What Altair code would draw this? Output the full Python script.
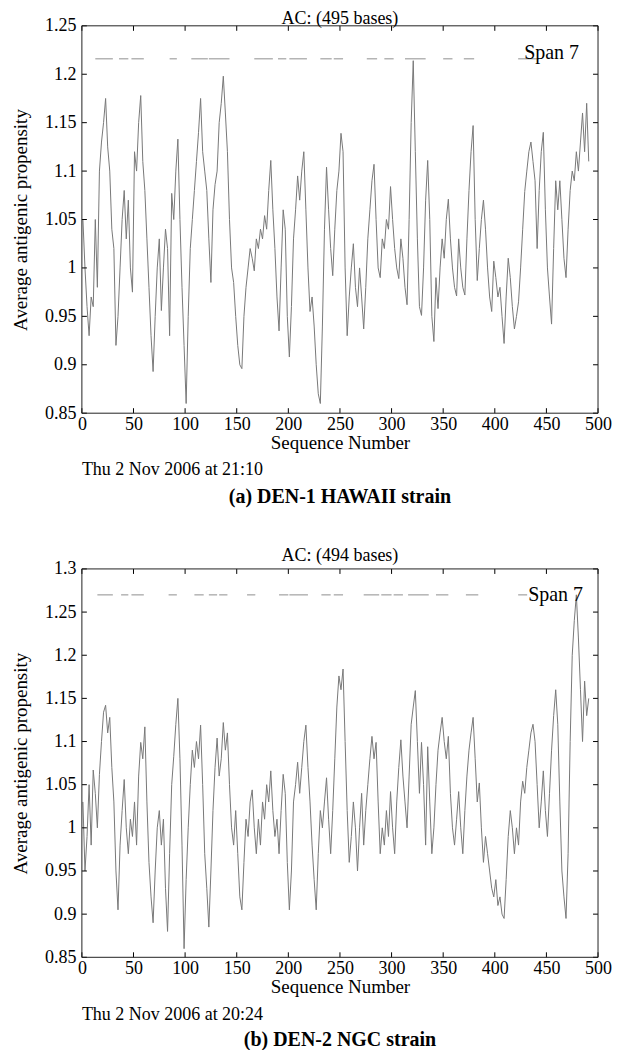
import altair as alt
import pandas as pd

# ---------------- data ----------------
seq_a = list(range(1, 492, 2))
val_a = [
    1.05, 1.00, 0.96, 0.93, 0.97, 0.96, 1.05, 0.98, 1.10, 1.13,
    1.15, 1.175, 1.125, 1.10, 1.04, 1.02, 0.92, 0.95, 1.00, 1.05,
    1.08, 1.03, 1.07, 1.00, 0.975, 1.12, 1.10, 1.15, 1.178, 1.11,
    1.08, 1.03, 0.98, 0.93, 0.893, 0.95, 1.00, 1.03, 0.956, 1.00,
    1.04, 1.02, 0.93, 1.077, 1.05, 1.10, 1.133, 1.05, 0.98, 0.92,
    0.86, 0.95, 1.02, 1.05, 1.08, 1.11, 1.14, 1.175, 1.12, 1.10,
    1.08, 1.03, 0.985, 1.06, 1.086, 1.10, 1.15, 1.17, 1.198, 1.16,
    1.12, 1.05, 1.00, 0.985, 0.95, 0.92, 0.90, 0.896, 0.95, 0.98,
    1.00, 1.02, 1.01, 0.997, 1.03, 1.02, 1.04, 1.03, 1.054, 1.04,
    1.08, 1.111, 1.06, 1.02, 0.97, 0.935, 1.00, 1.06, 1.04, 0.95,
    0.908, 0.96, 1.03, 1.06, 1.095, 1.07, 1.10, 1.12, 1.06, 1.00,
    0.955, 0.97, 0.94, 0.90, 0.87, 0.86, 0.94, 1.04, 1.104, 1.06,
    1.02, 0.992, 1.04, 1.08, 1.10, 1.139, 1.12, 1.00, 0.93, 0.97,
    1.00, 1.025, 0.98, 0.96, 1.00, 0.97, 0.937, 0.98, 1.03, 1.06,
    1.09, 1.107, 1.05, 1.00, 0.99, 1.03, 1.02, 1.05, 1.04, 1.084,
    1.05, 1.02, 1.00, 0.989, 1.03, 1.01, 0.98, 0.962, 1.05, 1.15,
    1.214, 1.12, 1.03, 0.96, 0.951, 1.00, 1.07, 1.111, 1.05, 0.95,
    0.924, 0.99, 0.958, 1.00, 1.03, 1.01, 1.05, 1.071, 1.03, 1.00,
    0.98, 0.971, 1.03, 1.00, 0.98, 0.972, 1.03, 1.08, 1.12, 1.147,
    1.05, 0.987, 1.02, 1.05, 1.07, 1.04, 1.00, 0.97, 0.955, 1.007,
    0.99, 0.97, 0.98, 0.95, 0.922, 0.97, 1.01, 0.99, 0.96, 0.937,
    0.95, 0.965, 1.00, 1.04, 1.079, 1.10, 1.12, 1.13, 1.11, 1.09,
    1.02, 1.08, 1.12, 1.14, 1.06, 1.00, 0.97, 0.942, 1.02, 1.09,
    1.06, 1.09, 1.05, 1.01, 0.99, 1.04, 1.08, 1.10, 1.09, 1.12,
    1.10, 1.13, 1.16, 1.12, 1.17, 1.11,
]

seq_b = list(range(1, 492, 2))
val_b = [
    1.03, 0.95, 0.99, 1.05, 0.98, 1.067, 1.04, 1.00, 1.062, 1.10,
    1.134, 1.142, 1.11, 1.128, 1.07, 1.03, 0.95, 0.905, 0.98, 1.02,
    1.056, 1.00, 0.97, 1.01, 0.99, 1.03, 0.98, 1.06, 1.099, 1.08,
    1.117, 1.03, 0.96, 0.92, 0.89, 0.95, 1.00, 1.02, 0.98, 1.01,
    0.93, 0.88, 0.97, 1.05, 1.083, 1.12, 1.15, 1.08, 0.98, 0.86,
    0.94, 1.00, 1.05, 1.09, 1.07, 1.10, 1.08, 1.119, 1.05, 0.97,
    0.93, 0.885, 0.95, 1.02, 1.07, 1.104, 1.06, 1.08, 1.122, 1.09,
    1.11, 1.05, 1.00, 0.98, 1.02, 0.97, 0.92, 0.905, 0.96, 1.01,
    0.99, 1.03, 1.044, 1.00, 0.97, 1.01, 0.98, 1.03, 1.01, 1.05,
    1.03, 1.066, 1.02, 0.99, 1.01, 0.97, 1.02, 1.062, 1.04, 0.96,
    0.905, 0.95, 1.03, 1.05, 1.076, 1.04, 1.07, 1.10, 1.119, 1.07,
    1.03, 0.98, 0.94, 0.905, 0.97, 1.02, 1.00, 1.03, 1.058, 1.01,
    0.97, 1.02, 1.08, 1.14, 1.176, 1.16, 1.184, 1.10, 1.02, 0.96,
    0.99, 1.03, 1.00, 0.95, 1.00, 1.04, 0.98, 1.02, 1.05, 1.08,
    1.106, 1.08, 1.099, 1.03, 0.97, 1.00, 0.98, 1.02, 0.99, 1.042,
    1.00, 0.97, 1.03, 1.07, 1.102, 1.06, 1.03, 1.00, 1.06, 1.12,
    1.14, 1.159, 1.10, 1.04, 1.099, 1.05, 0.98, 1.094, 1.03, 0.97,
    1.00, 1.05, 1.09, 1.11, 1.128, 1.10, 1.08, 1.106, 1.04, 1.00,
    0.98, 1.01, 1.042, 1.00, 0.97, 1.02, 1.06, 1.09, 1.11, 1.128,
    1.08, 1.03, 1.052, 1.00, 0.96, 0.99, 0.97, 0.95, 0.93, 0.92,
    0.94, 0.91, 0.92, 0.90, 0.895, 0.94, 0.99, 1.02, 1.00, 0.97,
    1.00, 0.98, 1.03, 1.054, 1.04, 1.07, 1.09, 1.11, 1.12, 1.10,
    1.05, 1.00, 1.03, 1.066, 1.02, 0.99, 1.04, 1.09, 1.13, 1.16,
    1.12, 1.03, 0.95, 0.92, 0.895, 0.97, 1.10, 1.20, 1.24, 1.27,
    1.22, 1.16, 1.10, 1.17, 1.13, 1.15,
]

# antigenic regions (dashed marks near the top)
seg_a_start = [13, 36, 48, 85, 106, 123, 167, 190, 201, 231, 244, 276, 293, 313, 350, 370]
seg_a_end = [30, 45, 60, 92, 122, 143, 185, 198, 218, 242, 253, 286, 302, 333, 359, 380]
seg_b_start = [15, 38, 48, 84, 109, 123, 133, 160, 191, 201, 232, 244, 273, 290, 302, 316, 343, 372]
seg_b_end = [30, 45, 60, 92, 118, 131, 141, 168, 200, 219, 241, 253, 288, 300, 311, 336, 355, 384]
level_a = [1.216]
level_b = [1.270]

x_ticks = [0, 50, 100, 150, 200, 250, 300, 350, 400, 450, 500]
y_ticks_a = [0.85, 0.9, 0.95, 1.0, 1.05, 1.1, 1.15, 1.2, 1.25]
y_ticks_b = [0.85, 0.9, 0.95, 1.0, 1.05, 1.1, 1.15, 1.2, 1.25, 1.3]

titles = ["AC: (495 bases)", "AC: (494 bases)"]
dates = ["Thu 2 Nov 2006 at 21:10", "Thu 2 Nov 2006 at 20:24"]
captions = ["(a) DEN-1 HAWAII strain", "(b) DEN-2 NGC strain"]
legend_label = "Span  7"

SERIF = "Liberation Serif"
W = 517


def panel(seq, vals, s_start, s_end, level, yticks, title, date, caption, H,
          legend_dx, legend_base, title_y, date_dy, cap_dy):
    xs = alt.Scale(domain=[0, 500], nice=False, zero=False)
    ys = alt.Scale(domain=[yticks[0], yticks[-1]], nice=False, zero=False)
    ax_x = alt.Axis(values=x_ticks, title="Sequence Number", labelPadding=2,
                    titlePadding=0, labelFlush=False, domain=False, ticks=False, grid=False)
    ax_y = alt.Axis(values=yticks, format=".2~f", title="Average antigenic propensity",
                    labelPadding=6, titlePadding=14, labelFlush=False, domain=False,
                    ticks=False, grid=False)

    df = pd.DataFrame({"seq": seq, "val": vals})
    line = alt.Chart(df).mark_line(color="#787878", strokeWidth=1).encode(
        x=alt.X("seq:Q", scale=xs, axis=ax_x),
        y=alt.Y("val:Q", scale=ys, axis=ax_y),
    )

    seg = pd.DataFrame({"s": s_start, "e": s_end, "lv": level * len(s_start)})
    dashes = alt.Chart(seg).mark_rule(color="#b4b4b4", strokeWidth=1.5).encode(
        x=alt.X("s:Q", scale=xs, axis=ax_x), x2="e:Q",
        y=alt.Y("lv:Q", scale=ys, axis=ax_y),
    )

    lv = pd.DataFrame({"lv": level, "label": [legend_label]})
    leg_line = alt.Chart(lv).mark_rule(color="#b4b4b4", strokeWidth=1.5).encode(
        x=alt.value(437), x2=alt.value(437 + legend_dx),
        y=alt.Y("lv:Q", scale=ys, axis=ax_y),
    )
    leg_text = alt.Chart(lv).mark_text(font=SERIF, fontSize=20, align="left",
                                       baseline=legend_base, color="black").encode(
        x=alt.value(443 if legend_base == "alphabetic" else 447),
        y=alt.Y("lv:Q", scale=ys, axis=ax_y),
        text="label:N",
    )

    xt = pd.DataFrame({"t": x_ticks})
    yt = pd.DataFrame({"t": yticks})
    tb = alt.Chart(xt).mark_rule(color="black").encode(
        x=alt.X("t:Q", scale=xs, axis=ax_x), y=alt.value(H), y2=alt.value(H - 5))
    tt = alt.Chart(xt).mark_rule(color="black").encode(
        x=alt.X("t:Q", scale=xs, axis=ax_x), y=alt.value(0), y2=alt.value(5))
    tl = alt.Chart(yt).mark_rule(color="black").encode(
        y=alt.Y("t:Q", scale=ys, axis=ax_y), x=alt.value(0), x2=alt.value(5))
    tr = alt.Chart(yt).mark_rule(color="black").encode(
        y=alt.Y("t:Q", scale=ys, axis=ax_y), x=alt.value(W), x2=alt.value(W - 5))

    txt = pd.DataFrame({"date": [date], "cap": [caption], "title": [title]})
    frame = alt.Chart(txt).mark_rect(fillOpacity=0, stroke="#222222", strokeWidth=1).encode(
        x=alt.value(0), x2=alt.value(W), y=alt.value(0), y2=alt.value(H))
    title_t = alt.Chart(txt).mark_text(font=SERIF, fontSize=18, align="center",
                                       baseline="alphabetic", color="black").encode(
        x=alt.value(W / 2), y=alt.value(title_y), text="title:N")
    date_t = alt.Chart(txt).mark_text(font=SERIF, fontSize=18, align="left",
                                      baseline="middle", color="black").encode(
        x=alt.value(0), y=alt.value(H + date_dy), text="date:N")
    cap_t = alt.Chart(txt).mark_text(font=SERIF, fontSize=20, fontWeight="bold", align="center",
                                     baseline="middle", color="black").encode(
        x=alt.value(W / 2), y=alt.value(H + cap_dy), text="cap:N")

    return alt.layer(line, dashes, leg_line, leg_text, tb, tt, tl, tr, frame,
                     title_t, date_t, cap_t).properties(width=W, height=H)


pa = panel(seq_a, val_a, seg_a_start, seg_a_end, level_a, y_ticks_a, titles[0], dates[0],
           captions[0], 388, 21, "alphabetic", -2, 57, 84)
pb = panel(seq_b, val_b, seg_b_start, seg_b_end, level_b, y_ticks_b, titles[1], dates[1],
           captions[1], 389, 9, "middle", -8, 58, 83)

chart = alt.vconcat(pa, pb, spacing=40).properties(
    padding={"left": 3, "top": 1, "right": 5, "bottom": 0},
    background="white",
).configure_view(strokeWidth=0).configure_axis(
    labelFont=SERIF, titleFont=SERIF, labelFontSize=18, titleFontSize=19,
    titleFontWeight="normal", labelColor="black", titleColor="black",
)

chart.save("out.html", embed_options={"renderer": "svg", "actions": False})
